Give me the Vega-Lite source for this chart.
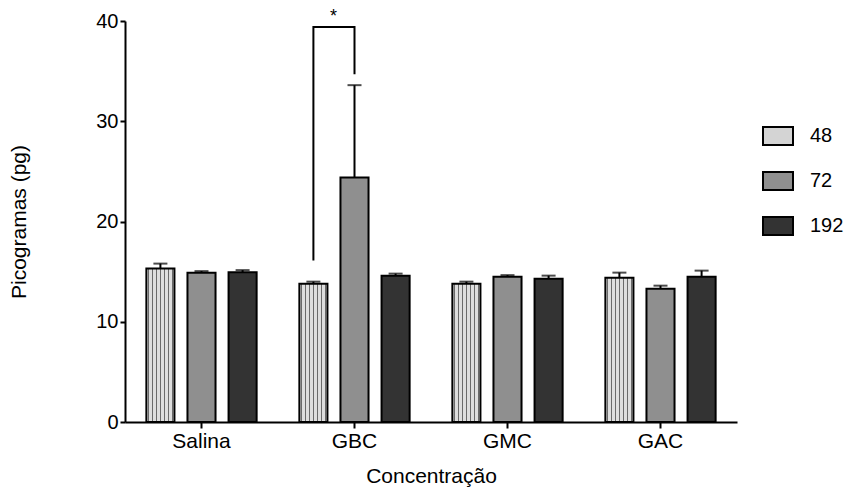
{
  "$schema": "https://vega.github.io/schema/vega-lite/v6.json",
  "autosize": {"type": "none"},
  "padding": {"left": 125, "top": 21, "right": 109, "bottom": 70},
  "width": 612,
  "height": 401,
  "background": "white",
  "config": {
    "view": {"stroke": null},
    "font": "Liberation Sans",
    "axis": {
      "domainColor": "black", "domainWidth": 2, "tickColor": "black", "tickWidth": 2,
      "labelFont": "Liberation Sans", "labelFontSize": 20, "labelColor": "black",
      "titleFont": "Liberation Sans", "titleFontSize": 21, "titleFontWeight": "normal", "titleColor": "black",
      "grid": false
    }
  },
  "datasets": {
    "bars": [
      {"group": "Salina", "series": "48", "value": 15.3, "upper": 15.8},
      {"group": "Salina", "series": "72", "value": 14.9, "upper": 15.05},
      {"group": "Salina", "series": "192", "value": 14.95, "upper": 15.15},
      {"group": "GBC", "series": "48", "value": 13.8, "upper": 14.0},
      {"group": "GBC", "series": "72", "value": 24.4, "upper": 33.6},
      {"group": "GBC", "series": "192", "value": 14.6, "upper": 14.8},
      {"group": "GMC", "series": "48", "value": 13.8, "upper": 14.0},
      {"group": "GMC", "series": "72", "value": 14.5, "upper": 14.65},
      {"group": "GMC", "series": "192", "value": 14.3, "upper": 14.6},
      {"group": "GAC", "series": "48", "value": 14.4, "upper": 14.9},
      {"group": "GAC", "series": "72", "value": 13.3, "upper": 13.6},
      {"group": "GAC", "series": "192", "value": 14.5, "upper": 15.1}
    ],
    "bracket": [
      {"group": "GBC", "series": "48", "y": 16.2, "order": 1},
      {"group": "GBC", "series": "48", "y": 39.4, "order": 2},
      {"group": "GBC", "series": "72", "y": 39.4, "order": 3},
      {"group": "GBC", "series": "72", "y": 34.8, "order": 4}
    ],
    "star": [
      {"group": "GBC", "series": "48", "y": 39.4, "label": "*"}
    ]
  },
  "encoding": {
    "x": {
      "field": "group", "type": "nominal",
      "sort": ["Salina", "GBC", "GMC", "GAC"],
      "scale": {"domain": ["Salina", "GBC", "GMC", "GAC"], "paddingInner": 0, "paddingOuter": 0},
      "axis": {"title": "Concentração", "labelAngle": 0, "labelFontSize": 21, "tickSize": 6, "labelPadding": 2, "titlePadding": 14}
    },
    "xOffset": {
      "field": "series", "type": "nominal",
      "scale": {"domain": ["48", "72", "192"], "paddingInner": 0.317, "paddingOuter": 0.52}
    }
  },
  "layer": [
    {
      "data": {"name": "bars"},
      "mark": {"type": "bar", "stroke": "black", "strokeWidth": 2},
      "encoding": {
        "y": {
          "field": "value", "type": "quantitative",
          "scale": {"domain": [0, 40], "nice": false},
          "axis": {"title": "Picogramas (pg)", "values": [0, 10, 20, 30, 40], "tickSize": 5, "labelPadding": 2, "titlePadding": 66}
        },
        "fill": {
          "condition": {
            "test": "datum.series === '48'",
            "value": {"gradient": "linear", "x1": 0, "y1": 0, "x2": 1, "y2": 0, "stops": [
                {"offset": 0, "color": "#dedede"},
                {"offset": 0.05, "color": "#dedede"}, {"offset": 0.05, "color": "#6a6a6a"}, {"offset": 0.093, "color": "#6a6a6a"}, {"offset": 0.093, "color": "#dedede"},
                {"offset": 0.193, "color": "#dedede"}, {"offset": 0.193, "color": "#6a6a6a"}, {"offset": 0.236, "color": "#6a6a6a"}, {"offset": 0.236, "color": "#dedede"},
                {"offset": 0.336, "color": "#dedede"}, {"offset": 0.336, "color": "#6a6a6a"}, {"offset": 0.379, "color": "#6a6a6a"}, {"offset": 0.379, "color": "#dedede"},
                {"offset": 0.479, "color": "#dedede"}, {"offset": 0.479, "color": "#6a6a6a"}, {"offset": 0.521, "color": "#6a6a6a"}, {"offset": 0.521, "color": "#dedede"},
                {"offset": 0.621, "color": "#dedede"}, {"offset": 0.621, "color": "#6a6a6a"}, {"offset": 0.664, "color": "#6a6a6a"}, {"offset": 0.664, "color": "#dedede"},
                {"offset": 0.764, "color": "#dedede"}, {"offset": 0.764, "color": "#6a6a6a"}, {"offset": 0.807, "color": "#6a6a6a"}, {"offset": 0.807, "color": "#dedede"},
                {"offset": 0.907, "color": "#dedede"}, {"offset": 0.907, "color": "#6a6a6a"}, {"offset": 0.95, "color": "#6a6a6a"}, {"offset": 0.95, "color": "#dedede"},
                {"offset": 1, "color": "#dedede"}
            ]}
          },
          "field": "series", "type": "nominal",
          "scale": {"domain": ["48", "72", "192"], "range": ["#d4d4d4", "#8f8f8f", "#333333"]},
          "legend": {
            "title": null, "orient": "none", "legendX": 637, "legendY": 99,
            "symbolType": "M-1,-0.6H1V0.6H-1Z", "symbolSize": 900,
            "symbolStrokeColor": "black", "symbolStrokeWidth": 2, "symbolOpacity": 1,
            "rowPadding": 16, "labelOffset": 16, "labelFontSize": 20, "labelFont": "Liberation Sans", "labelColor": "black",
            "encoding": {
              "symbols": {
                "stroke": {"value": "black"},
                "strokeWidth": {"value": 2}
              }
            }
          }
        }
      }
    },
    {
      "data": {"name": "bars"},
      "mark": {"type": "rule", "color": "black", "strokeWidth": 2},
      "encoding": {
        "y": {"field": "value", "type": "quantitative"},
        "y2": {"field": "upper"}
      }
    },
    {
      "data": {"name": "bars"},
      "mark": {"type": "tick", "color": "black", "thickness": 2, "size": 14, "orient": "horizontal"},
      "encoding": {
        "y": {"field": "upper", "type": "quantitative"}
      }
    },
    {
      "data": {"name": "bracket"},
      "mark": {"type": "line", "color": "black", "strokeWidth": 2, "strokeCap": "square"},
      "encoding": {
        "y": {"field": "y", "type": "quantitative"},
        "order": {"field": "order", "type": "quantitative"}
      }
    },
    {
      "data": {"name": "star"},
      "mark": {"type": "text", "text": "*", "fontSize": 18, "dx": 20, "dy": -10, "color": "black", "font": "Liberation Sans"},
      "encoding": {
        "y": {"field": "y", "type": "quantitative"}
      }
    }
  ]
}
